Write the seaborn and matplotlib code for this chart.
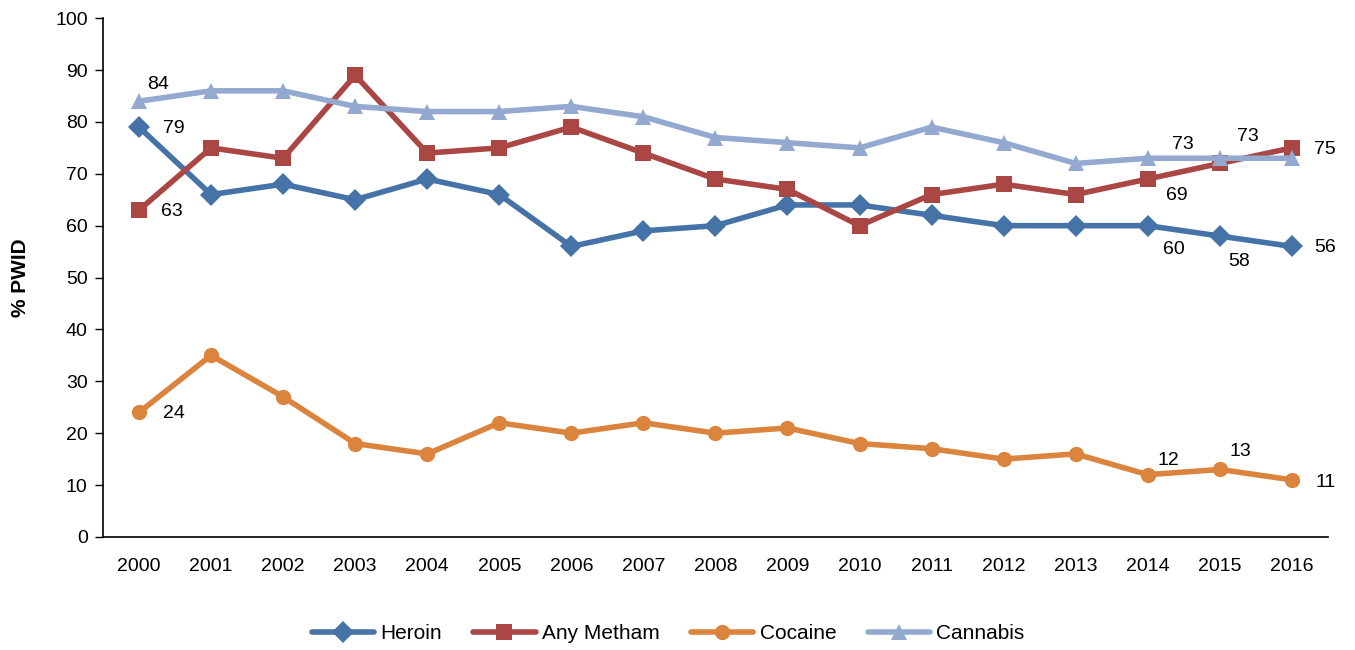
import pandas as pd
import matplotlib
matplotlib.use("Agg")
import matplotlib.pyplot as plt
import seaborn as sns

sns.set_style("white")
plt.rcParams['font.family'] = ['Liberation Sans', 'DejaVu Sans']
plt.rcParams['text.color'] = 'black'
plt.rcParams['axes.labelcolor'] = 'black'
plt.rcParams['xtick.color'] = 'black'
plt.rcParams['ytick.color'] = 'black'

# data
years = [str(y) for y in range(2000, 2017)]
heroin = [79, 66, 68, 65, 69, 66, 56, 59, 60, 64, 64, 62, 60, 60, 60, 58, 56]
metham = [63, 75, 73, 89, 74, 75, 79, 74, 69, 67, 60, 66, 68, 66, 69, 72, 75]
cocaine = [24, 35, 27, 18, 16, 22, 20, 22, 20, 21, 18, 17, 15, 16, 12, 13, 11]
cannabis = [84, 86, 86, 83, 82, 82, 83, 81, 77, 76, 75, 79, 76, 72, 73, 73, 73]

series_names = ["Heroin", "Any Metham", "Cocaine", "Cannabis"]
colors = {"Heroin": "#4572A7", "Any Metham": "#AA4643",
          "Cocaine": "#DB843D", "Cannabis": "#93A9D0"}
markers = {"Heroin": "D", "Any Metham": "s", "Cocaine": "o", "Cannabis": "^"}

df = pd.DataFrame({"year": years * 4,
                   "value": heroin + metham + cocaine + cannabis,
                   "drug": sum([[n] * len(years) for n in series_names], [])})
df["x"] = df.groupby("drug").cumcount()

fig = plt.figure(figsize=(13.55, 6.5), dpi=100)
ax = fig.add_axes([0.076, 0.174, 0.904, 0.798])

sns.lineplot(data=df, x="x", y="value", hue="drug", style="drug",
             palette=colors, markers=markers, dashes=False,
             hue_order=series_names, style_order=series_names,
             linewidth=4, markersize=11, markeredgewidth=0, ax=ax)

ax.set_xlim(-0.5, len(years) - 0.5)
ax.set_ylim(0, 100)
ax.set_yticks(range(0, 101, 10))
ax.set_xticks(range(len(years)))
ax.set_xticklabels(years)
ax.set_xticks([i - 0.5 for i in range(len(years) + 1)], minor=True)
ax.tick_params(axis="x", which="major", length=0, pad=15, labelsize=14)
ax.tick_params(axis="x", which="minor", length=6, width=1, direction="out")
ax.tick_params(axis="y", length=6, width=1, direction="out", labelsize=14,
               left=True, pad=5)
ax.set_xlabel("")
ax.set_ylabel("% PWID", fontsize=15, fontweight="bold", labelpad=18)
for s in ["top", "right"]:
    ax.spines[s].set_visible(False)
for s in ["left", "bottom"]:
    ax.spines[s].set_color("black")
    ax.spines[s].set_linewidth(1.2)

# data labels (series, index, offset in points)
labels = [
    (cannabis, 0, (14, 12)), (heroin, 0, (25, -1)), (metham, 0, (24, -1)),
    (cocaine, 0, (25, -1)),
    (cannabis, 14, (25, 10)), (cannabis, 15, (20, 16)),
    (metham, 14, (21, -12)), (metham, 16, (24, -1)),
    (heroin, 14, (19, -17)), (heroin, 15, (14, -18)), (heroin, 16, (24, -1)),
    (cocaine, 14, (15, 10)), (cocaine, 15, (15, 13)), (cocaine, 16, (24, -2)),
]
for vals, i, off in labels:
    ax.annotate(str(vals[i]), (i, vals[i]), xytext=off, textcoords="offset points",
                ha="center", va="center", fontsize=14)

handles, lbls = ax.get_legend_handles_labels()
ax.legend_.remove()
fig.legend(handles, lbls, loc="center", bbox_to_anchor=(0.493, 0.025),
           ncol=4, frameon=False, fontsize=15, handlelength=3,
           columnspacing=1.5, handletextpad=0.3)

fig.savefig("out.png", dpi=100)
